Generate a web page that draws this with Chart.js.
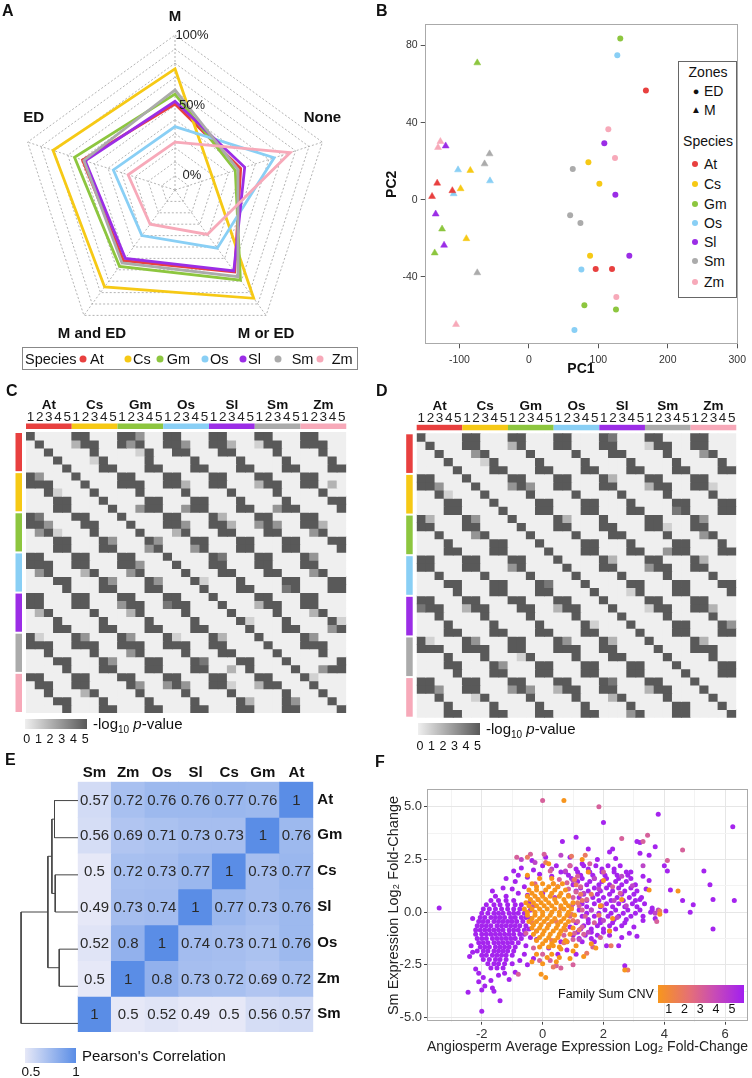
<!DOCTYPE html>
<html>
<head>
<meta charset="utf-8">
<script src="https://cdn.jsdelivr.net/npm/chart.js@4.4.0/dist/chart.umd.min.js"></script>
<style>
  body { margin: 0; background: #fff; font-family: 'Liberation Sans', Arial, sans-serif; color: #111; }
  #page { position: relative; width: 752px; height: 1078px; overflow: hidden; background: #fff; }
  canvas { position: absolute; }
  .pl { position: absolute; font-weight: bold; font-size: 16px; line-height: 1; }
  .t { position: absolute; white-space: nowrap; line-height: 1; transform: translateY(-50%); }
  .tc { position: absolute; white-space: nowrap; line-height: 1; transform: translate(-50%, -50%); }
  .dot { position: absolute; width: 7px; height: 7px; border-radius: 50%; transform: translate(-50%, -50%); }
  .box { position: absolute; border: 1px solid #888; background: #fff; box-sizing: border-box; }
</style>
</head>
<body>
<div id="page">
  <canvas id="chartA" width="352" height="360" style="left:0;top:0"></canvas>
  <canvas id="chartB" width="376" height="384" style="left:376px;top:0"></canvas>
  <canvas id="chartC" width="352" height="336" style="left:0;top:380px"></canvas>
  <canvas id="chartD" width="352" height="340" style="left:390px;top:380px"></canvas>
  <canvas id="chartE" width="352" height="290" style="left:0;top:755px"></canvas>
  <canvas id="dendroE" width="78" height="260" style="left:0;top:781.7px"></canvas>
  <canvas id="chartF" width="376" height="318" style="left:376px;top:760px"></canvas>

  <!-- panel letters -->
  <div class="pl" style="left:2px;top:3px">A</div>
  <div class="pl" style="left:376px;top:3px">B</div>
  <div class="pl" style="left:6px;top:383px">C</div>
  <div class="pl" style="left:376px;top:383px">D</div>
  <div class="pl" style="left:5px;top:752px">E</div>
  <div class="pl" style="left:375px;top:754px">F</div>

  <!-- A legend -->
  <div class="box" style="left:21.7px;top:346.7px;width:336.6px;height:23.3px"></div>
  <div class="t" style="left:25px;top:359px;font-size:14.5px">Species</div>
  <div class="dot" style="left:83.3px;top:359px;background:#e8403f"></div><div class="t" style="left:90px;top:359px;font-size:14.5px">At</div>
  <div class="dot" style="left:127.7px;top:359px;background:#f6c915"></div><div class="t" style="left:133px;top:359px;font-size:14.5px">Cs</div>
  <div class="dot" style="left:160px;top:359px;background:#8dc63f"></div><div class="t" style="left:166.7px;top:359px;font-size:14.5px">Gm</div>
  <div class="dot" style="left:205px;top:359px;background:#89cff5"></div><div class="t" style="left:210px;top:359px;font-size:14.5px">Os</div>
  <div class="dot" style="left:243.3px;top:359px;background:#9b2de6"></div><div class="t" style="left:248px;top:359px;font-size:14.5px">Sl</div>
  <div class="dot" style="left:278.3px;top:359px;background:#ababab"></div><div class="t" style="left:291.7px;top:359px;font-size:14.5px">Sm</div>
  <div class="dot" style="left:320px;top:359px;background:#f7a9b9"></div><div class="t" style="left:331.7px;top:359px;font-size:14.5px">Zm</div>

  <!-- B legend -->
  <div class="box" style="left:677.7px;top:61px;width:59.3px;height:236.7px;border-color:#666"></div>
  <div class="tc" style="left:708px;top:72px;font-size:14px">Zones</div>
  <div class="tc" style="left:696px;top:91px;font-size:11px">●</div><div class="t" style="left:704px;top:91px;font-size:14px">ED</div>
  <div class="tc" style="left:696px;top:110px;font-size:10px">▲</div><div class="t" style="left:704px;top:110px;font-size:14px">M</div>
  <div class="tc" style="left:708px;top:141px;font-size:14px">Species</div>
  <div class="dot" style="left:695px;top:164px;width:6px;height:6px;background:#e8403f"></div><div class="t" style="left:704px;top:164px;font-size:14px">At</div>
  <div class="dot" style="left:695px;top:184px;width:6px;height:6px;background:#f6c915"></div><div class="t" style="left:704px;top:184px;font-size:14px">Cs</div>
  <div class="dot" style="left:695px;top:204px;width:6px;height:6px;background:#8dc63f"></div><div class="t" style="left:704px;top:204px;font-size:14px">Gm</div>
  <div class="dot" style="left:695px;top:223px;width:6px;height:6px;background:#89cff5"></div><div class="t" style="left:704px;top:223px;font-size:14px">Os</div>
  <div class="dot" style="left:695px;top:242px;width:6px;height:6px;background:#9b2de6"></div><div class="t" style="left:704px;top:242px;font-size:14px">Sl</div>
  <div class="dot" style="left:695px;top:261px;width:6px;height:6px;background:#ababab"></div><div class="t" style="left:704px;top:261px;font-size:14px">Sm</div>
  <div class="dot" style="left:695px;top:282px;width:6px;height:6px;background:#f7a9b9"></div><div class="t" style="left:704px;top:282px;font-size:14px">Zm</div>

  <!-- C colour key -->
  <div style="position:absolute;left:25px;top:719px;width:62px;height:9.5px;background:linear-gradient(90deg,#efefef,#595959)"></div>
  <div class="tc" style="left:26.7px;top:739px;font-size:12.5px">0</div>
  <div class="tc" style="left:38.4px;top:739px;font-size:12.5px">1</div>
  <div class="tc" style="left:50.1px;top:739px;font-size:12.5px">2</div>
  <div class="tc" style="left:61.8px;top:739px;font-size:12.5px">3</div>
  <div class="tc" style="left:73.5px;top:739px;font-size:12.5px">4</div>
  <div class="tc" style="left:85.2px;top:739px;font-size:12.5px">5</div>
  <div class="t" style="left:93px;top:725px;font-size:15px">-log<sub style="font-size:10px">10</sub> <i>p</i>-value</div>

  <!-- D colour key -->
  <div style="position:absolute;left:417.7px;top:723px;width:62.3px;height:12px;background:linear-gradient(90deg,#efefef,#595959)"></div>
  <div class="tc" style="left:420px;top:746px;font-size:12.5px">0</div>
  <div class="tc" style="left:431.5px;top:746px;font-size:12.5px">1</div>
  <div class="tc" style="left:443px;top:746px;font-size:12.5px">2</div>
  <div class="tc" style="left:454.5px;top:746px;font-size:12.5px">3</div>
  <div class="tc" style="left:466px;top:746px;font-size:12.5px">4</div>
  <div class="tc" style="left:477.5px;top:746px;font-size:12.5px">5</div>
  <div class="t" style="left:486px;top:730px;font-size:15px">-log<sub style="font-size:10px">10</sub> <i>p</i>-value</div>

  <!-- E colour key -->
  <div style="position:absolute;left:25px;top:1047.7px;width:51px;height:15.6px;background:linear-gradient(90deg,#e6e8f7,#5a8de6)"></div>
  <div class="tc" style="left:31px;top:1072px;font-size:13.5px">0.5</div>
  <div class="tc" style="left:76px;top:1072px;font-size:13.5px">1</div>
  <div class="t" style="left:82px;top:1055px;font-size:15px">Pearson's Correlation</div>

  <!-- F colour key -->
  <div class="t" style="left:558px;top:994px;font-size:12.5px">Family Sum CNV</div>
  <div style="position:absolute;left:657.7px;top:985px;width:86px;height:17.7px;background:linear-gradient(90deg,#f8961c,#e46e79 38%,#c84bb6 66%,#a21ff0)"></div>
  <div class="tc" style="left:668.7px;top:1008.5px;font-size:12.5px">1</div>
  <div class="tc" style="left:684.5px;top:1008.5px;font-size:12.5px">2</div>
  <div class="tc" style="left:700.3px;top:1008.5px;font-size:12.5px">3</div>
  <div class="tc" style="left:716.1px;top:1008.5px;font-size:12.5px">4</div>
  <div class="tc" style="left:731.9px;top:1008.5px;font-size:12.5px">5</div>
</div>

<script>
// ---------- shared ----------
const SPECIES = ['At', 'Cs', 'Gm', 'Os', 'Sl', 'Sm', 'Zm'];
const SPECIES_COLORS = ['#e8403f', '#f6c915', '#8dc63f', '#89cff5', '#9b2de6', '#ababab', '#f7a9b9'];
const FONT = "'Liberation Sans', Arial, sans-serif";

// ---------- A: radar (% of genes) ----------
const radarAxes = ['M', 'None', 'M or ED', 'M and ED', 'ED'];
const radarAt = [51, 39, 62, 52, 59];
const radarCs = [76, 18, 85, 75, 81];
const radarGm = [58, 35, 69, 57, 65];
const radarOs = [35, 64, 41, 30, 36];
const radarSl = [53, 42, 61, 50, 57];
const radarSm = [61, 37, 66, 54, 58];
const radarZm = [24, 76, 29, 20, 25];
const radarTicks = [0, 50, 100];

// ---------- B: PCA ----------
const pcXTicks = [-100, 0, 100, 200, 300];
const pcYTicks = [-40, 0, 40, 80];
const edAt = [[168.5, 56.6], [96.2, -35.9], [119.7, -35.9]];
const edCs = [[85.7, 19.5], [101.5, 8.3], [88.1, -29]];
const edGm = [[131.6, 83.6], [79.9, -54.8], [125.4, -56.9]];
const edOs = [[127.3, 75], [75.6, -36.2], [65.6, -67.6]];
const edSl = [[108.6, 29.3], [124.5, 2.6], [144.6, -29]];
const edSm = [[63.2, 15.9], [59.4, -8.1], [74.2, -12.1]];
const edZm = [[114.4, 36.6], [124, 21.6], [125.9, -50.5]];
const mAt = [[-132, 8.6], [-110.2, 4.7], [-139.4, 1.7]];
const mCs = [[-84.3, 15.2], [-98.3, 5.7], [-90, -20.2]];
const mGm = [[-74.3, 71], [-125, -15.2], [-135.6, -27.6]];
const mOs = [[-102, 15.5], [-56, 9.8], [-108.3, 3.1]];
const mSl = [[-119.8, 27.9], [-134.2, -7.4], [-122.1, -23.6]];
const mSm = [[-56.6, 23.8], [-63.8, 18.6], [-74.3, -37.9]];
const mZm = [[-127.4, 30.2], [-130.8, 27.1], [-104.9, -64.7]];

// ---------- C / D: zone similarity, -log10 p (0..5), rows At1..Zm5 ----------
const ZONES = ['1', '2', '3', '4', '5'];
const heatC = [
  '50000 55000 55300 55000 55000 55000 55000',
  '05000 25500 53500 55300 55200 15500 55500',
  '00500 00500 00150 05500 05500 00500 00500',
  '00050 00150 00050 00050 00050 00050 00050',
  '00005 00055 00055 00055 00055 00055 00055',
  '53000 50000 55000 55000 55000 55000 55000',
  '55500 05000 55500 55200 55000 25500 55020',
  '00510 00500 00500 00500 00500 00500 00500',
  '00055 00050 00055 00055 00050 00050 00055',
  '00055 00005 00355 00355 00055 00355 00005',
  '54000 55000 50000 55000 52000 55000 55000',
  '55300 05500 05000 55300 55200 35300 55200',
  '03510 00500 00500 02500 05500 05500 03500',
  '00055 00053 00053 00055 00055 00055 00055',
  '00055 00055 00035 00035 00055 00055 00005',
  '55000 55000 55000 50000 54000 55000 53000',
  '55500 55000 55300 05000 55000 55000 55000',
  '03500 02500 03500 00500 05500 05500 03500',
  '00055 00053 00053 00051 00050 00055 00055',
  '00005 00055 00055 00005 00055 00045 00055',
  '55000 55000 55000 55000 50000 55000 55000',
  '55000 55000 35500 45500 05000 25500 55000',
  '02500 00500 02500 00500 00500 00500 02500',
  '00050 00050 00050 00050 00051 00050 00051',
  '00055 00055 00055 00055 00005 00055 00035',
  '51000 53000 53000 51000 52000 50000 53000',
  '55500 55500 55500 55500 55000 05000 55500',
  '00500 00500 03500 00500 05500 00500 00500',
  '00055 00053 00055 00054 00055 00050 00005',
  '00005 00055 00055 00055 00205 00005 00355',
  '55000 55000 55000 55000 55000 55000 51000',
  '05500 55000 05300 35300 55100 25500 05000',
  '00500 02500 00500 00500 00500 00050 00500',
  '00055 00050 00050 00050 00052 00053 00050',
  '00005 00055 00055 00055 00055 00055 00005'
];
const heatD = [
  '50000 55000 55000 55000 54000 55000 55000',
  '05000 55000 25000 55000 55000 15500 55000',
  '00500 03500 00500 00500 05500 00500 03500',
  '00050 00150 00050 00050 00050 00050 00050',
  '00005 00055 00055 00055 00055 00055 00055',
  '55000 50000 55000 55000 52000 55000 55000',
  '55300 05000 35300 55000 55000 25500 55100',
  '00510 00500 00500 00500 00500 00500 00500',
  '00055 00050 00055 00055 00050 00055 00055',
  '00055 00005 00055 00055 00055 00045 00055',
  '52000 53000 50000 52000 50000 55000 53000',
  '55000 55000 05000 55000 55000 55100 55000',
  '00500 03500 00500 00500 05500 00500 03500',
  '00050 00055 00050 00055 00050 00055 00050',
  '00055 00055 00005 00055 00055 00355 00055',
  '55000 55000 55000 50000 52000 55000 52000',
  '55000 55000 35000 05000 55000 35500 55000',
  '00500 00500 00500 00500 00500 00500 00500',
  '00055 00055 00054 00050 00055 00055 00055',
  '00005 00055 00055 00005 00015 00055 00005',
  '55000 55000 55000 55000 50000 55000 55000',
  '45500 25500 05500 25500 05000 15500 55200',
  '00500 00500 00500 00500 00500 00500 00500',
  '00050 00050 00050 00051 00050 00055 00053',
  '00055 00055 00055 00055 00005 00055 00055',
  '51000 53000 55000 53000 52000 50000 52000',
  '55500 55500 55000 55500 55000 05000 55500',
  '00050 00500 01500 00500 05500 00500 00500',
  '00055 00053 00055 00055 00055 00050 00055',
  '00005 00055 00055 00055 00055 00005 00055',
  '55000 55000 55000 55000 54000 55000 50000',
  '55300 55000 35300 25500 55000 25500 05000',
  '00500 01500 00500 00500 02500 00500 00500',
  '00050 00050 00050 00050 00050 00055 00050',
  '00055 00055 00055 00055 00035 00055 00005'
];

// ---------- E: Pearson correlation ----------
const corrCols = ['Sm', 'Zm', 'Os', 'Sl', 'Cs', 'Gm', 'At'];
const corrRows = ['At', 'Gm', 'Cs', 'Sl', 'Os', 'Zm', 'Sm'];
const corrAt = [0.57, 0.72, 0.76, 0.76, 0.77, 0.76, 1];
const corrGm = [0.56, 0.69, 0.71, 0.73, 0.73, 1, 0.76];
const corrCs = [0.5, 0.72, 0.73, 0.77, 1, 0.73, 0.77];
const corrSl = [0.49, 0.73, 0.74, 1, 0.77, 0.73, 0.76];
const corrOs = [0.52, 0.8, 1, 0.74, 0.73, 0.71, 0.76];
const corrZm = [0.5, 1, 0.8, 0.73, 0.72, 0.69, 0.72];
const corrSm = [1, 0.5, 0.52, 0.49, 0.5, 0.56, 0.57];
// dendrogram links: [height, row position]
const dendroLinks = [
  [[0, 0.5], [0.234, 0.5], [0.234, 1.5], [0, 1.5]],
  [[0, 2.5], [0.227, 2.5], [0.227, 3.5], [0, 3.5]],
  [[0.234, 1.0], [0.26, 1.0], [0.26, 3.0], [0.227, 3.0]],
  [[0, 4.5], [0.187, 4.5], [0.187, 5.5], [0, 5.5]],
  [[0.26, 2.0], [0.30, 2.0], [0.30, 5.0], [0.187, 5.0]],
  [[0.30, 3.5], [0.567, 3.5], [0.567, 6.5], [0, 6.5]]
];

// ---------- F: Sm vs angiosperm log2 fold change, by family CNV ----------
const fXTicks = [-3, -2, -1, 0, 1, 2, 3, 4, 5, 6];
const fXLabels = [-2, 0, 2, 4, 6];
const fYTicks = [-5, -3.75, -2.5, -1.25, 0, 1.25, 2.5, 3.75, 5];
const fYLabels = [-5, -2.5, 0, 2.5, 5];
// dense purple core, rows of [y, xs]
const fCore5 = [
  [0.75, [-1.55, -1.2]],
  [0.55, [-1.7, -1.45, -1.2, -0.95]],
  [0.35, [-1.85, -1.6, -1.4, -1.15, -0.9, -0.7]],
  [0.15, [-1.95, -1.75, -1.55, -1.35, -1.15, -0.95, -0.75]],
  [-0.05, [-2.0, -1.8, -1.6, -1.45, -1.3, -1.1, -0.95, -0.8, -0.6]],
  [-0.25, [-2.05, -1.9, -1.7, -1.55, -1.4, -1.25, -1.05, -0.9, -0.7, -0.55]],
  [-0.45, [-2.1, -1.95, -1.8, -1.6, -1.45, -1.3, -1.15, -1.0, -0.85, -0.65]],
  [-0.65, [-2.15, -2.0, -1.85, -1.7, -1.5, -1.35, -1.2, -1.05, -0.9, -0.75, -0.55]],
  [-0.85, [-2.2, -2.05, -1.9, -1.75, -1.6, -1.45, -1.3, -1.1, -0.95, -0.8, -0.6]],
  [-1.05, [-2.2, -2.0, -1.85, -1.7, -1.55, -1.4, -1.25, -1.1, -0.95, -0.75, -0.6]],
  [-1.25, [-2.15, -2.0, -1.85, -1.65, -1.5, -1.35, -1.2, -1.05, -0.9, -0.7]],
  [-1.45, [-2.1, -1.95, -1.8, -1.6, -1.45, -1.3, -1.15, -1.0, -0.8]],
  [-1.65, [-2.05, -1.9, -1.75, -1.55, -1.4, -1.25, -1.1, -0.9]],
  [-1.85, [-2.15, -1.95, -1.8, -1.6, -1.45, -1.3, -1.15, -0.95]],
  [-2.05, [-2.0, -1.85, -1.65, -1.5, -1.35, -1.2, -1.0]],
  [-2.25, [-1.95, -1.75, -1.55, -1.4, -1.2]],
  [-2.45, [-1.8, -1.6, -1.45, -1.25, -1.0]],
  [-2.65, [-1.7, -1.5, -1.3]]
];
// purple band right of the orange cloud
const fRight5 = [
  [2.2, [0.9, 1.35, 1.75, 2.15, 2.55]],
  [2.05, [1.1, 1.5, 1.95, 2.35]],
  [1.9, [0.75, 1.15, 1.55, 1.95, 2.35, 2.75]],
  [1.75, [0.85, 1.25, 1.65, 2.05, 2.45, 2.8]],
  [1.6, [0.95, 1.3, 1.7, 2.1, 2.5, 2.9]],
  [1.45, [1.15, 1.55, 1.95, 2.4, 2.75]],
  [1.3, [1.0, 1.45, 1.85, 2.2, 2.6, 3.05]],
  [1.15, [1.25, 1.7, 2.1, 2.5, 2.9]],
  [1.0, [1.1, 1.5, 1.9, 2.3, 2.7, 3.1]],
  [0.85, [1.35, 1.8, 2.2, 2.6, 3.0]],
  [0.7, [1.2, 1.65, 2.0, 2.45, 2.85, 3.25]],
  [0.55, [1.45, 1.85, 2.25, 2.65, 3.05]],
  [0.4, [1.3, 1.7, 2.1, 2.5, 2.95, 3.35]],
  [0.25, [1.45, 1.9, 2.3, 2.7, 3.1]],
  [0.1, [1.2, 1.6, 2.05, 2.4, 2.8, 3.2, 3.6]],
  [-0.05, [1.45, 1.85, 2.25, 2.65, 3.05]],
  [-0.2, [1.3, 1.7, 2.15, 2.5, 2.9, 3.3]],
  [-0.35, [1.5, 1.9, 2.35, 2.75]],
  [-0.5, [1.1, 1.5, 1.9, 2.3, 2.7]],
  [-0.65, [1.35, 1.8, 2.2, 2.6]],
  [-0.8, [1.25, 1.6, 2.0, 2.4]],
  [-0.95, [1.15, 1.6, 2.0]],
  [-1.1, [1.0, 1.4, 1.8, 2.2]],
  [-1.25, [1.2, 1.6]],
  [-1.4, [0.8, 1.3, 1.7]]
];
const fScatter5 = [
  [-3.4, 0.2], [-2.3, -0.3], [-2.35, -1.6], [-2.3, -1.9], [-2.4, -2.1], [-2.2, -2.7], [-2.1, -2.9],
  [-1.95, -3.1], [-2.1, -3.3], [-1.9, -3.5], [-1.7, -3.25], [-1.65, -3.6], [-1.45, -3.0], [-1.25, -2.9],
  [-1.1, -3.2], [-0.9, -2.85], [-2.45, -3.8], [-2.0, -4.7], [-1.4, -4.2], [-1.6, -3.75], [-2.0, -3.7],
  [-1.65, 1.0], [-1.3, 1.15], [-1.0, 1.1], [-0.8, 0.9], [-1.2, 1.6], [-0.9, 1.45], [-0.6, 1.2],
  [-0.5, 0.8], [-0.45, 0.45], [-0.4, 0.1], [-0.4, -0.3], [-0.45, -0.8], [-0.4, -1.2], [-0.55, -1.6],
  [-0.6, -2.0], [-0.75, -2.3], [-0.5, -2.5], [-0.3, -2.2], [-0.95, 1.95], [-0.5, 1.65], [-0.3, 2.0],
  [-0.1, 1.8], [0.1, 2.6], [0.0, 0.9], [0.3, 1.7], [0.6, -1.4], [0.9, -0.7], [0.2, -1.7], [0.5, -2.0],
  [0.8, -1.8], [1.1, -2.0], [-0.2, -1.3], [-0.7, 2.1], [-0.35, 2.45], [0.0, 2.2], [0.45, 2.2],
  [-0.8, 1.75], [0.6, 1.9],
  [2.0, 4.25], [3.8, 4.65], [6.25, 4.05], [1.1, 3.55], [0.65, 3.35], [3.1, 3.35], [3.2, 3.3], [3.7, 3.1],
  [3.5, 2.7], [3.2, 2.8], [2.2, 2.85], [4.0, 2.2], [5.3, 1.95], [6.3, 0.55], [5.6, 0.6], [5.6, -0.8],
  [5.5, 1.3], [4.2, 1.05], [4.6, 0.55], [4.85, 0.0], [4.95, 0.35], [4.05, 0.05], [3.6, 0.2], [3.7, -0.3],
  [2.7, -2.55], [4.1, 1.95], [3.5, 1.5], [3.3, 1.7], [3.4, 1.1], [3.2, 0.6], [3.55, 0.0], [3.3, -0.4],
  [3.0, -0.7], [2.85, -1.0], [2.6, -1.2], [2.5, -1.6], [3.1, -1.15], [2.1, -1.6], [2.9, 1.9], [2.4, 2.55],
  [1.8, 2.5], [1.3, 2.3], [0.9, 2.6], [1.5, 3.0], [2.3, 3.0]
];
const fScatter4 = [
  [-0.7, 2.5], [0.6, 2.7], [1.0, 1.5], [1.35, 0.9], [1.6, 0.1], [2.0, -0.4], [1.85, 1.1], [2.35, 0.55],
  [2.6, 1.7], [2.75, 0.3], [2.2, -0.9], [1.5, -0.95], [1.0, 0.4], [0.75, 1.95], [0.2, -0.6], [-0.3, 0.3],
  [-0.2, -0.9], [2.95, 1.25], [3.3, 2.2], [0.5, 1.2], [1.2, -1.3], [0.4, 0.7], [1.7, 1.6], [2.45, -0.25],
  [3.7, -0.05], [3.8, 0.1], [-0.25, 2.35], [0.3, 2.05]
];
const fScatter3 = [
  [0.0, 5.3], [1.85, 5.0], [-0.85, 2.6], [-0.4, 2.75], [0.05, 2.75], [2.6, 3.5], [3.45, 3.65], [3.3, 3.35],
  [4.6, 2.95], [4.1, 2.45], [0.9, -0.2], [1.2, 0.3], [1.45, 0.6], [0.85, 1.1], [0.55, 1.55], [1.7, -0.5],
  [1.3, -0.7], [0.7, -1.1], [1.0, -2.5], [0.6, -2.65], [-0.8, -2.95], [0.45, -2.55], [1.65, -1.65],
  [2.0, 1.9], [1.15, 1.7], [0.25, 1.95], [-0.25, 1.35], [2.3, 1.2], [1.95, 0.3], [2.55, 0.9], [0.9, 2.2],
  [1.55, 2.3], [3.75, -0.45], [1.9, -1.2], [-0.55, -1.0], [-0.3, -1.7], [0.0, -2.0],
  [1.0, 0.7], [1.3, 0.1], [1.15, -0.45], [1.4, -0.2], [1.05, -1.0], [0.95, 0.25], [1.25, 1.2],
  [1.1, 0.95], [0.8, 1.4], [1.0, -1.3], [1.35, -1.05], [0.25, -2.3], [-0.1, -2.3]
];
const fScatter2 = [
  [0.1, 2.35], [-0.5, 2.6], [0.95, 2.65], [1.4, 2.7], [2.8, -2.75], [3.85, 0.05], [2.25, -1.6], [1.45, -1.95],
  [0.35, -2.6], [1.0, -0.4], [1.25, 0.85], [0.35, 1.35], [-0.15, 0.6], [0.6, 0.2], [0.45, -0.45],
  [-0.35, -0.5], [1.6, 0.85], [0.3, -1.35], [1.1, 1.3], [1.85, -0.15], [0.75, -0.85],
  [1.15, 0.45], [0.95, -0.1], [1.2, -0.85], [0.85, 0.8], [1.3, 0.55], [1.05, 1.55], [0.7, -1.45]
];
const fCore1 = [
  [1.6, [-0.1, 0.3]],
  [1.35, [-0.35, 0.0, 0.35, 0.65]],
  [1.2, [-0.2, 0.2, 0.5]],
  [1.05, [-0.45, -0.2, 0.1, 0.4, 0.75]],
  [0.9, [-0.35, -0.05, 0.3, 0.6]],
  [0.75, [-0.5, -0.25, 0.0, 0.25, 0.55, 0.85]],
  [0.6, [-0.4, -0.15, 0.1, 0.4, 0.7]],
  [0.45, [-0.55, -0.3, -0.05, 0.2, 0.45, 0.75, 1.0]],
  [0.3, [-0.45, -0.2, 0.05, 0.3, 0.6, 0.85]],
  [0.15, [-0.6, -0.35, -0.1, 0.15, 0.4, 0.7, 0.95]],
  [0.0, [-0.5, -0.25, 0.0, 0.3, 0.55, 0.85]],
  [-0.15, [-0.5, -0.25, 0.0, 0.25, 0.55, 0.8, 1.05]],
  [-0.3, [-0.35, -0.1, 0.15, 0.4, 0.7]],
  [-0.45, [-0.45, -0.2, 0.05, 0.3, 0.6, 0.85]],
  [-0.6, [-0.3, -0.05, 0.2, 0.5, 0.75]],
  [-0.75, [-0.35, -0.1, 0.15, 0.45, 0.7, 1.0]],
  [-0.9, [-0.2, 0.05, 0.35, 0.6]],
  [-1.05, [-0.3, 0.0, 0.25, 0.55, 0.9]],
  [-1.2, [-0.1, 0.2, 0.5]],
  [-1.35, [-0.2, 0.1, 0.4, 0.75]],
  [-1.5, [0.0, 0.3]],
  [-1.65, [-0.1, 0.2, 0.55]]
];
const fScatter1 = [
  [0.7, 5.3], [-0.05, -2.95], [0.1, -3.1], [0.45, -2.35], [0.3, -2.0], [2.7, -2.75], [3.5, 1.05],
  [4.45, 1.0], [3.85, -0.1], [1.6, -1.5], [1.75, -1.7], [1.35, -2.1], [0.2, 2.3], [-0.5, 1.75],
  [1.3, 2.5], [2.2, -0.9], [2.0, 1.5], [2.6, 0.6], [1.9, 0.3], [1.1, -1.6], [0.9, -2.2], [0.0, -2.45],
  [-0.2, -2.0], [1.5, 1.9], [2.3, -0.3], [0.6, -1.75], [0.35, -1.6], [0.8, -1.4], [1.0, -1.85],
  [0.15, -2.15], [-0.35, -2.35], [0.55, -2.15]
];
const CNV_COLORS = ['#f7951d', '#ea7a63', '#d6619b', '#bc46c8', '#a524ee'];

// ---------- helpers ----------
function hex(c) { return [1, 3, 5].map(i => parseInt(c.slice(i, i + 2), 16)); }
function mix(a, b, t) {
  const A = hex(a), B = hex(b);
  return 'rgb(' + A.map((v, i) => Math.round(v + (B[i] - v) * t)).join(',') + ')';
}
const heatColor = v => mix('#efefef', '#595959', v / 5);
const corrColor = v => mix('#e6e8f7', '#5a8de6', Math.max(0, Math.min(1, (v - 0.5) / 0.5)));
const pairs = arr => arr.map(([x, y]) => ({ x, y }));
const rowsToPts = rows => rows.flatMap(([y, xs]) => xs.map(x => ({ x, y })));

Chart.defaults.font.family = FONT;
Chart.defaults.color = '#222';
Chart.defaults.animation = false;

// box around the plotting panel (ggplot style)
const frame = {
  id: 'frame',
  afterDraw(chart, args, opts) {
    const a = chart.chartArea, ctx = chart.ctx;
    ctx.save();
    ctx.strokeStyle = opts.color || '#999';
    ctx.lineWidth = 1;
    ctx.strokeRect(Math.round(a.left) + 0.5, Math.round(a.top) + 0.5, Math.round(a.width) - 1, Math.round(a.height) - 1);
    ctx.restore();
  }
};

// ---------- A ----------
const RADAR_LABEL_OFFSETS = [[0, -18], [0, -24], [0, 18], [8, 18], [6, -24]];
const radarText = {
  id: 'radarText',
  afterDraw(chart) {
    const r = chart.scales.r, ctx = chart.ctx;
    ctx.save();
    ctx.textAlign = 'center';
    ctx.textBaseline = 'middle';
    ctx.fillStyle = '#222';
    ctx.font = '13px ' + FONT;
    radarTicks.forEach(v => {
      ctx.fillText(v + '%', r.xCenter + 17, r.yCenter - r.getDistanceFromCenterForValue(v));
    });
    ctx.fillStyle = '#111';
    ctx.font = 'bold 15px ' + FONT;
    radarAxes.forEach((name, i) => {
      const p = r.getPointPosition(i, r.drawingArea);
      ctx.fillText(name, p.x + RADAR_LABEL_OFFSETS[i][0], p.y + RADAR_LABEL_OFFSETS[i][1]);
    });
    ctx.restore();
  }
};
const radarSeries = [radarAt, radarCs, radarGm, radarOs, radarSl, radarSm, radarZm];
new Chart(document.getElementById('chartA'), {
  type: 'radar',
  data: {
    labels: radarAxes,
    datasets: SPECIES.map((s, i) => ({
      label: s, data: radarSeries[i], borderColor: SPECIES_COLORS[i], borderWidth: 2.8,
      pointRadius: 0, fill: false, tension: 0
    })).reverse()
  },
  options: {
    responsive: false, events: [],
    layout: { padding: { left: 20, right: 22, top: 35, bottom: 15 } },
    plugins: { legend: { display: false }, tooltip: { enabled: false } },
    scales: {
      r: {
        min: -10, max: 100,
        ticks: { display: false, stepSize: 10 },
        grid: { color: '#a0a0a0', lineWidth: 0.8, borderDash: [2, 2] },
        border: { dash: [2, 2] },
        angleLines: { color: '#a0a0a0', lineWidth: 0.8, borderDash: [2, 2] },
        pointLabels: { display: false }
      }
    }
  },
  plugins: [radarText]
});

// ---------- B ----------
const edSets = [edAt, edCs, edGm, edOs, edSl, edSm, edZm];
const mSets = [mAt, mCs, mGm, mOs, mSl, mSm, mZm];
const pcaDatasets = [];
SPECIES.forEach((s, i) => {
  pcaDatasets.push({ label: s + ' ED', data: pairs(edSets[i]), pointStyle: 'circle', pointRadius: 3,
    backgroundColor: SPECIES_COLORS[i], borderWidth: 0 });
  pcaDatasets.push({ label: s + ' M', data: pairs(mSets[i]), pointStyle: 'triangle', pointRadius: 4,
    backgroundColor: SPECIES_COLORS[i], borderColor: SPECIES_COLORS[i], borderWidth: 0.5 });
});
new Chart(document.getElementById('chartB'), {
  type: 'scatter',
  data: { datasets: pcaDatasets },
  options: {
    responsive: false, events: [],
    layout: { padding: { left: 4, right: 14.3, top: 24.3, bottom: 0 } },
    plugins: { legend: { display: false }, tooltip: { enabled: false }, frame: { color: '#aaa' } },
    scales: {
      x: {
        min: -150, max: 300,
        afterBuildTicks: a => { a.ticks = pcXTicks.map(v => ({ value: v })); },
        grid: { drawOnChartArea: false, tickLength: 4, tickColor: '#555' },
        border: { display: false },
        ticks: { font: { size: 10.5 }, color: '#333', padding: 6 },
        title: { display: true, text: 'PC1', font: { size: 14, weight: 'bold' }, color: '#111', padding: { top: 0, bottom: 6 } },
        afterFit: s => { s.height = 39.7; }
      },
      y: {
        min: -75, max: 91,
        afterBuildTicks: a => { a.ticks = pcYTicks.map(v => ({ value: v })); },
        grid: { drawOnChartArea: false, tickLength: 4, tickColor: '#555' },
        border: { display: false },
        ticks: { font: { size: 10.5 }, color: '#333', padding: 3 },
        title: { display: true, text: 'PC2', font: { size: 14, weight: 'bold' }, color: '#111', padding: { top: 4, bottom: 0 } },
        afterFit: s => { s.width = 44.7; }
      }
    }
  },
  plugins: [frame]
});

// ---------- C / D ----------
const heatDecor = {
  id: 'heatDecor',
  afterDraw(chart) {
    const { ctx, chartArea: a, scales: { x, y } } = chart;
    const cw = a.width / 35;
    ctx.save();
    SPECIES.forEach((s, k) => {
      const left = x.getPixelForValue(k * 5) - cw / 2;
      const right = x.getPixelForValue(k * 5 + 4) + cw / 2;
      ctx.fillStyle = SPECIES_COLORS[k];
      ctx.fillRect(left, a.top - 8.5, right - left, 5.5);
      const top = y.getPixelForValue(k * 5), bot = y.getPixelForValue(k * 5 + 5);
      ctx.fillRect(a.left - 10.5, top + 1, 6.5, bot - top - 2);
      ctx.fillStyle = '#111';
      ctx.font = 'bold 13.5px ' + FONT;
      ctx.textAlign = 'center';
      ctx.textBaseline = 'middle';
      ctx.fillText(s, (left + right) / 2, a.top - 27);
    });
    ctx.restore();
  }
};
function drawHeat(id, rows, pad) {
  const cells = rows.map(r => r.replace(/ /g, '').split('').map(Number));
  new Chart(document.getElementById(id), {
    type: 'bar',
    data: {
      labels: SPECIES.flatMap(() => ZONES),
      datasets: cells.map(row => ({
        data: row.map(() => 1),
        backgroundColor: row.map(heatColor),
        borderWidth: 0, barPercentage: 1, categoryPercentage: 1, inflateAmount: 0.4
      }))
    },
    options: {
      responsive: false, events: [],
      layout: { padding: pad },
      plugins: { legend: { display: false }, tooltip: { enabled: false } },
      scales: {
        x: {
          position: 'top', stacked: true,
          grid: { display: false, drawTicks: false }, border: { display: false },
          ticks: { autoSkip: false, maxRotation: 0, padding: 6.5, font: { size: 13.5 }, color: '#222' },
          afterFit: s => { s.height = 26; }
        },
        y: { stacked: true, reverse: true, min: 0, max: 35, display: false }
      }
    },
    plugins: [heatDecor]
  });
}
drawHeat('chartC', heatC, { left: 26, right: 5, top: 26, bottom: 3 });
drawHeat('chartD', heatD, { left: 26.7, right: 2.7, top: 27.3, bottom: 2.3 });

// ---------- E ----------
const corrMatrix = [corrAt, corrGm, corrCs, corrSl, corrOs, corrZm, corrSm];
const corrText = {
  id: 'corrText',
  afterDatasetsDraw(chart) {
    const ctx = chart.ctx;
    ctx.save();
    ctx.font = '15px ' + FONT;
    ctx.fillStyle = '#2a2a2a';
    ctx.textAlign = 'center';
    ctx.textBaseline = 'middle';
    corrMatrix.forEach((row, r) => {
      chart.getDatasetMeta(r).data.forEach((el, c) => {
        ctx.fillText(String(row[c]), el.x, (el.y + el.base) / 2 + 1);
      });
    });
    ctx.restore();
  }
};
new Chart(document.getElementById('chartE'), {
  type: 'bar',
  data: {
    labels: corrCols,
    datasets: corrMatrix.map(row => ({
      data: row.map(() => 1),
      backgroundColor: row.map(corrColor),
      borderWidth: 0, barPercentage: 1, categoryPercentage: 1, inflateAmount: 0.4
    }))
  },
  options: {
    responsive: false, events: [],
    layout: { padding: { left: 77.7, right: 2.7, top: 0, bottom: 3.3 } },
    plugins: { legend: { display: false }, tooltip: { enabled: false } },
    scales: {
      x: {
        position: 'top', stacked: true,
        grid: { display: false, drawTicks: false }, border: { display: false },
        ticks: { font: { size: 15, weight: 'bold' }, color: '#111', padding: 0, maxRotation: 0 },
        afterFit: s => { s.height = 26.7; }
      },
      y: { stacked: true, reverse: true, min: 0, max: 7, display: false },
      y2: {
        type: 'category', labels: corrRows, position: 'right', offset: true,
        grid: { display: false, drawTicks: false }, border: { display: false },
        ticks: { font: { size: 15, weight: 'bold' }, color: '#111', padding: 4 },
        afterFit: s => { s.width = 36; }
      }
    }
  },
  plugins: [corrText]
});
new Chart(document.getElementById('dendroE'), {
  type: 'scatter',
  data: {
    datasets: dendroLinks.map(link => ({
      data: pairs(link), showLine: true, borderColor: '#444', borderWidth: 1,
      pointRadius: 0, clip: false
    }))
  },
  options: {
    responsive: false, events: [],
    layout: { padding: 0 },
    plugins: { legend: { display: false }, tooltip: { enabled: false } },
    scales: {
      x: { min: 0, max: 0.777, reverse: true, display: false },
      y: { min: 0, max: 7, reverse: true, display: false }
    }
  }
});

// ---------- F ----------
const cnvPoints = [
  rowsToPts(fCore1).concat(pairs(fScatter1)),
  pairs(fScatter2),
  pairs(fScatter3),
  pairs(fScatter4),
  rowsToPts(fCore5).concat(rowsToPts(fRight5), pairs(fScatter5))
];
new Chart(document.getElementById('chartF'), {
  type: 'scatter',
  data: {
    datasets: cnvPoints.map((pts, i) => ({
      label: 'CNV ' + (i + 1), data: pts, pointRadius: 2.5, pointStyle: 'circle',
      backgroundColor: CNV_COLORS[i], borderWidth: 0
    }))
  },
  options: {
    responsive: false, events: [],
    layout: { padding: { left: 5.3, right: 1.7, top: 29.3, bottom: 18.6 } },
    plugins: { legend: { display: false }, tooltip: { enabled: false }, frame: { color: '#aaa' } },
    scales: {
      x: {
        min: -3.8, max: 6.75,
        afterBuildTicks: a => { a.ticks = fXTicks.map(v => ({ value: v })); },
        grid: {
          color: c => fXLabels.includes(c.tick && c.tick.value) ? '#e6e6e6' : '#f3f3f3',
          tickColor: c => fXLabels.includes(c.tick && c.tick.value) ? '#444' : 'rgba(0,0,0,0)',
          tickLength: 3
        },
        border: { display: false },
        ticks: { callback: v => fXLabels.includes(v) ? String(v) : '', font: { size: 13 }, color: '#333', padding: 2, autoSkip: false, maxRotation: 0 },
        title: { display: true, text: 'Angiosperm Average Expression Log₂ Fold-Change', font: { size: 14.5 }, color: '#222', padding: { top: 0, bottom: 4 } },
        afterFit: s => { s.height = 37.7; }
      },
      y: {
        min: -5.2, max: 5.83,
        afterBuildTicks: a => { a.ticks = fYTicks.map(v => ({ value: v })); },
        grid: {
          color: c => fYLabels.includes(c.tick && c.tick.value) ? '#e6e6e6' : '#f3f3f3',
          tickColor: c => fYLabels.includes(c.tick && c.tick.value) ? '#444' : 'rgba(0,0,0,0)',
          tickLength: 3
        },
        border: { display: false },
        ticks: { callback: v => fYLabels.includes(v) ? v.toFixed(1) : '', font: { size: 13 }, color: '#333', padding: 2, autoSkip: false },
        title: { display: true, text: 'Sm Expression Log₂ Fold-Change', font: { size: 14.5 }, color: '#222', padding: { top: 4, bottom: 0 } },
        afterFit: s => { s.width = 45.7; }
      }
    }
  },
  plugins: [frame]
});
</script>
</body>
</html>
